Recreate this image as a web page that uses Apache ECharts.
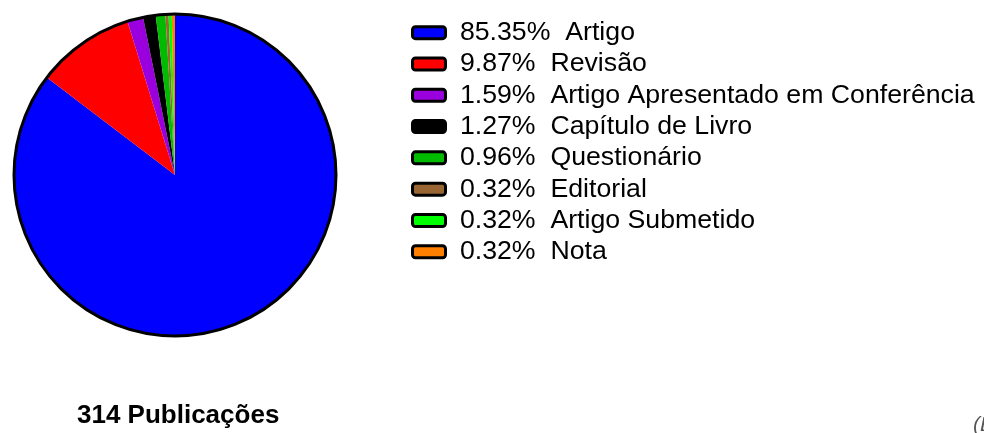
<!DOCTYPE html>
<html><head><meta charset="utf-8">
<script src="https://cdn.jsdelivr.net/npm/echarts@6/dist/echarts.min.js"></script>
<style>html,body{margin:0;padding:0;background:#fff}#c{width:984px;height:433px}</style>
</head><body><div id="c"></div>
<script>
const categories = ['Artigo','Revisão','Artigo Apresentado em Conferência','Capítulo de Livro','Questionário','Editorial','Artigo Submetido','Nota'];
const counts = [268, 31, 5, 4, 3, 1, 1, 1];
const colors = ['#0000ff','#ff0000','#9900dd','#000000','#00bb00','#996633','#00ff00','#ff8000'];
const total = counts.reduce((a,b)=>a+b,0);
const pct = {};
categories.forEach((c,i)=>pct[c]=(counts[i]/total*100).toFixed(2)+'%');

const FONT = 'Liberation Sans, Arial, sans-serif';
const chart = echarts.init(document.getElementById('c'));
chart.setOption({
  animation:false,
  textStyle:{fontFamily:FONT},
  legend:{
    orient:'vertical', left:406, top:12, itemWidth:33, itemHeight:12, itemGap:0,
    icon:'roundRect',
    itemStyle:{borderColor:'#000',borderWidth:3},
    textStyle:{fontSize:26.7,color:'#000',lineHeight:31.3,fontFamily:FONT,padding:[0,0,0,2]},
    formatter:n=>' '+pct[n]+'  '+n,
    data:categories
  },
  title:[
    {text:total+' Publicações', left:72, top:398, textStyle:{fontSize:26,fontWeight:'bold',color:'#000',fontFamily:FONT}},
    {text:'(Lattes)', left:968, top:410, textStyle:{fontSize:21,fontStyle:'italic',fontWeight:'normal',color:'#555',fontFamily:FONT}}
  ],
  series:[
    {type:'pie', center:[175,175], radius:[0,161], startAngle:90, clockwise:true,
     label:{show:false}, labelLine:{show:false}, silent:true,
     itemStyle:{borderWidth:0},
     data:categories.map((c,i)=>({name:c,value:counts[i],itemStyle:{color:colors[i]}}))},
    {type:'pie', center:[175,175], radius:[0,161], silent:true, label:{show:false}, labelLine:{show:false},
     legendHoverLink:false,
     itemStyle:{color:'rgba(0,0,0,0)',borderColor:'#000',borderWidth:3},
     data:[{name:'__outline',value:1}]}
  ]
});
</script></body></html>
